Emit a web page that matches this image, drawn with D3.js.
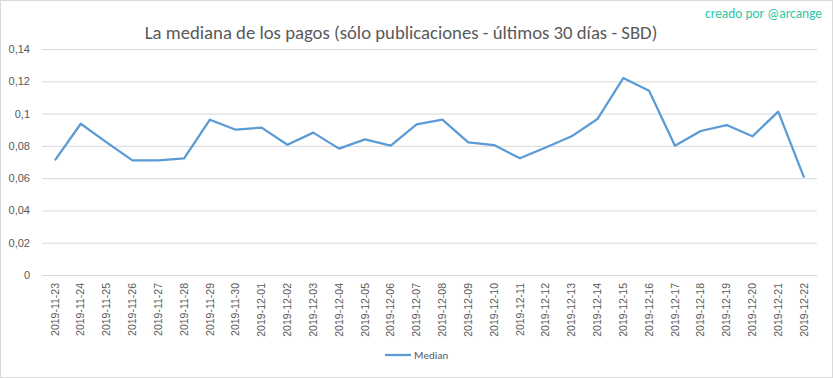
<!DOCTYPE html>
<html>
<head>
<meta charset="utf-8">
<script src="https://cdn.jsdelivr.net/npm/d3@7"></script>
<style>
  body { margin: 0; background: #fff; }
  svg { display: block; font-family: Calibri, Carlito, "Open Sans", "Liberation Sans", sans-serif; }
</style>
</head>
<body>
<div id="chart"></div>
<script>
// Datos
const dates = ["2019-11-23","2019-11-24","2019-11-25","2019-11-26","2019-11-27","2019-11-28","2019-11-29","2019-11-30",
  "2019-12-01","2019-12-02","2019-12-03","2019-12-04","2019-12-05","2019-12-06","2019-12-07","2019-12-08","2019-12-09",
  "2019-12-10","2019-12-11","2019-12-12","2019-12-13","2019-12-14","2019-12-15","2019-12-16","2019-12-17","2019-12-18",
  "2019-12-19","2019-12-20","2019-12-21","2019-12-22"];
const median = [0.0710,0.0937,0.0822,0.0710,0.0710,0.0723,0.0962,0.0900,0.0913,0.0807,0.0882,0.0783,0.0840,0.0801,
  0.0933,0.0962,0.0822,0.0805,0.0723,0.0790,0.0859,0.0966,0.1220,0.1142,0.0801,0.0892,0.0929,0.0859,0.1012,0.0603];
const yTicks = [0, 0.02, 0.04, 0.06, 0.08, 0.1, 0.12, 0.14];

const W = 833, H = 378;
const margin = { top: 49, right: 16, bottom: 103, left: 42 };
const width = W - margin.left - margin.right;
const height = H - margin.top - margin.bottom;
const textColor = "#595959";

const root = d3.select("#chart").append("svg")
  .attr("width", W).attr("height", H);

// Borde del gráfico
root.append("rect")
  .attr("x", 0.5).attr("y", 0.5)
  .attr("width", W - 1).attr("height", H - 1)
  .attr("fill", "#fff").attr("stroke", "#d9d9d9");

// Título
const title = root.append("text")
  .attr("x", 401).attr("y", 39)
  .attr("text-anchor", "middle")
  .style("font-size", "19px")
  .style("font-weight", 300)
  .style("fill", textColor)
  .text("La mediana de los pagos (sólo publicaciones - últimos 30 días - SBD)");
// ajustar al ancho del original (~513px)
const tw = title.node().getComputedTextLength();
title.style("font-size", (19 * 513 / tw).toFixed(2) + "px");

const credit = root.append("text")
  .attr("x", 822).attr("y", 18)
  .attr("text-anchor", "end")
  .style("font-size", "11px")
  .style("fill", "#2cc7a4")
  .text("creado por @arcange");
const cw = credit.node().getComputedTextLength();
credit.style("font-size", (11 * 117 / cw).toFixed(2) + "px");

const svg = root.append("g")
  .attr("transform", `translate(${margin.left}, ${margin.top})`);

const x = d3.scaleBand().domain(dates).range([0, width]);
const y = d3.scaleLinear().domain([0, 0.14]).range([height, 0]);
const fmt = d => String(d3.format(".2~f")(d)).replace(".", ",");

// Líneas de cuadrícula y eje Y
const yAxis = svg.append("g")
  .call(d3.axisLeft(y).tickValues(yTicks).tickSize(-width).tickPadding(12).tickFormat(fmt));
yAxis.select(".domain").remove();
yAxis.selectAll(".tick line").attr("stroke", "#d9d9d9");
yAxis.selectAll(".tick text")
  .style("font-size", "11px").style("fill", textColor).attr("font-family", null);

// Eje X
const xAxis = svg.append("g")
  .attr("transform", `translate(0, ${height})`)
  .call(d3.axisBottom(x).tickSize(0));
xAxis.select(".domain").attr("stroke", "#d9d9d9");
xAxis.selectAll(".tick text")
  .attr("transform", "rotate(-90)")
  .attr("x", -8).attr("y", 0).attr("dy", "0.35em")
  .attr("text-anchor", "end")
  .attr("font-family", null)
  .style("font-size", "10.5px").style("fill", textColor);

// Línea
const line = d3.line()
  .x((d, i) => x(dates[i]) + x.bandwidth() / 2)
  .y(d => y(d));

svg.append("path")
  .datum(median)
  .attr("fill", "none")
  .attr("stroke", "#5b9bd5")
  .attr("stroke-width", 2.25)
  .attr("stroke-linejoin", "round")
  .attr("d", line);

// Leyenda
const legend = root.append("g").attr("transform", "translate(385, 355)");
legend.append("line")
  .attr("x1", 0).attr("x2", 26)
  .attr("stroke", "#5b9bd5").attr("stroke-width", 2.25);
legend.append("text")
  .attr("x", 29).attr("dy", "0.35em")
  .style("font-size", "11px").style("fill", textColor)
  .text("Median");
</script>
</body>
</html>
